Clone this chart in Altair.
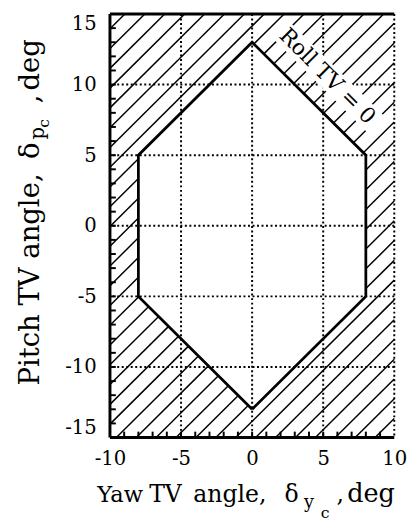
import altair as alt
import pandas as pd

# ---------------- data ----------------
X_DOMAIN = [-10, 10]
Y_DOMAIN = [-15, 15]
x_tick_values = [-10, -5, 0, 5, 10]
y_tick_values = [-15, -10, -5, 0, 5, 10, 15]
grid_x = [-5, 0, 5, 10]
grid_y = [-10, -5, 0, 5, 10]
minor_x = list(range(-9, 10))
minor_y = list(range(-14, 15))
hex_x = [0, 8, 8, 0, -8, -8]
hex_y = [-13, -5, 5, 13, 5, -5]
hatch_step = 1.4
hatch_phase = 0.15
annotation = "Roll TV = 0"
annot_x, annot_y = 5.3, 10.6
mask_half = 3.5

FONT = "DejaVu Serif"

# -------------- hatch lines (outside the hexagon) --------------
def hatch_rows():
    rows = []
    n = len(hex_x)
    seg_id = 0
    for k in range(-20, 21):
        c = hatch_phase + k * hatch_step
        xmin = max(X_DOMAIN[0], Y_DOMAIN[0] - c)
        xmax = min(X_DOMAIN[1], Y_DOMAIN[1] - c)
        if xmax <= xmin:
            continue
        lo, hi, empty = -1e9, 1e9, False
        for i in range(n):
            vx, vy = hex_x[i], hex_y[i]
            ex = hex_x[(i + 1) % n] - vx
            ey = hex_y[(i + 1) % n] - vy
            A = ex - ey
            B = ex * (c - vy) + ey * vx
            if A > 0:
                lo = max(lo, -B / A)
            elif A < 0:
                hi = min(hi, -B / A)
            elif B < 0:
                empty = True
        segs = []
        if empty or lo >= hi:
            segs.append((xmin, xmax))
        else:
            if lo > xmin:
                segs.append((xmin, min(lo, xmax)))
            if hi < xmax:
                segs.append((max(hi, xmin), xmax))
        for a, b in segs:
            if b - a < 1e-6:
                continue
            rows.append({"id": seg_id, "x": a, "y": a + c})
            rows.append({"id": seg_id, "x": b, "y": b + c})
            seg_id += 1
    return pd.DataFrame(rows)

hatch_df = hatch_rows()
hex_df = pd.DataFrame({
    "x": hex_x + [hex_x[0]],
    "y": hex_y + [hex_y[0]],
    "i": list(range(len(hex_x) + 1)),
})
gx_df = pd.DataFrame({"x": grid_x})
gy_df = pd.DataFrame({"y": grid_y})
mx_df = pd.DataFrame({"x": minor_x})
my_df = pd.DataFrame({"y": minor_y})
mask_df = pd.DataFrame({
    "x": [annot_x - mask_half, annot_x + mask_half],
    "y": [annot_y + mask_half, annot_y - mask_half],
})
frame_h = pd.DataFrame({"y": [Y_DOMAIN[0], Y_DOMAIN[1]]})
frame_v = pd.DataFrame({"x": [X_DOMAIN[0]]})
annot_df = pd.DataFrame({"x": [annot_x], "y": [annot_y], "t": [annotation]})

xs = alt.Scale(domain=X_DOMAIN, nice=False, zero=False)
ys = alt.Scale(domain=Y_DOMAIN, nice=False, zero=False)

axis_common = dict(title=None, domain=False, ticks=False, grid=False,
                   labelFont=FONT, labelFontSize=20, labelColor="black",
                   labelExpr="(datum.value < 0 ? '-' : '') + abs(datum.value)")
x_axis = alt.Axis(values=x_tick_values, labelFlush=False, labelPadding=12, **axis_common)
y_axis = alt.Axis(values=y_tick_values, labelFlush=True, labelPadding=14, **axis_common)


def X(field="x:Q"):
    return alt.X(field, scale=xs, axis=x_axis)


def Y(field="y:Q"):
    return alt.Y(field, scale=ys, axis=y_axis)


hatch = alt.Chart(hatch_df).mark_line(color="black", strokeWidth=1.5).encode(
    x=X(), y=Y(), detail="id:N")

dot = dict(color="black", strokeWidth=2, strokeDash=[2, 2.6])
grid_v = alt.Chart(gx_df).mark_rule(**dot).encode(x=X())
grid_h = alt.Chart(gy_df).mark_rule(**dot).encode(y=Y())

mask = alt.Chart(mask_df).mark_line(color="white", strokeWidth=24, strokeCap="butt").encode(
    x=X(), y=Y())

hexagon = alt.Chart(hex_df).mark_line(color="black", strokeWidth=2.8, strokeJoin="miter").encode(
    x=X(), y=Y(), order="i:O")

frame_top_bottom = alt.Chart(frame_h).mark_rule(color="black", strokeWidth=3.2).encode(y=Y())
frame_left = alt.Chart(frame_v).mark_rule(color="black", strokeWidth=3).encode(x=X())

ticks_left = alt.Chart(my_df).mark_rule(color="black", strokeWidth=2).encode(
    y=Y(), x=alt.value(0), x2=alt.value(6))
ticks_bottom = alt.Chart(mx_df).mark_rule(color="black", strokeWidth=2).encode(
    x=X(), y=alt.value(432), y2=alt.value(426))

annot = alt.Chart(annot_df).mark_text(font=FONT, fontSize=22, angle=45, align="center",
                                      baseline="middle", color="black").encode(
    x=X(), y=Y(), text="t:N")


def txt(s, px, py, size, angle=0):
    return alt.Chart(pd.DataFrame({"t": [s]})).mark_text(
        font=FONT, fontSize=size, angle=angle, align="left", baseline="alphabetic",
        color="black").encode(x=alt.value(px), y=alt.value(py), text="t:N")

# x-axis title pieces (pixel positions relative to plot origin)
x_title = [
    txt("Yaw", -13, 498, 23),
    txt("TV", 40, 498, 24),
    txt("angle,", 85, 498, 24),
    txt("δ", 178, 498, 24),
    txt("y", 198, 504, 18),
    txt("c", 215, 514, 16),
    txt(",", 231, 498, 24),
    txt("deg", 242, 498, 26),
]
# y-axis title pieces (rotated)
y_title = [
    txt("Pitch TV angle,", -72, 379, 28, 270),
    txt("δ", -72, 148, 28, 270),
    txt("p", -67, 128, 20, 270),
    txt("c", -62, 116, 16, 270),
    txt(",", -72, 91, 28, 270),
    txt("deg", -72, 78, 28, 270),
]

chart = alt.layer(
    hatch, grid_v, grid_h, mask, hexagon, frame_top_bottom, frame_left,
    ticks_left, ticks_bottom, annot, *x_title, *y_title,
).properties(
    width=290, height=432,
    autosize=alt.AutoSizeParams(type="none"),
    padding={"left": 104, "top": 1, "right": 14, "bottom": 80},
).configure_view(stroke=None)

chart.save("out.html", embed_options={"renderer": "svg", "actions": False})
